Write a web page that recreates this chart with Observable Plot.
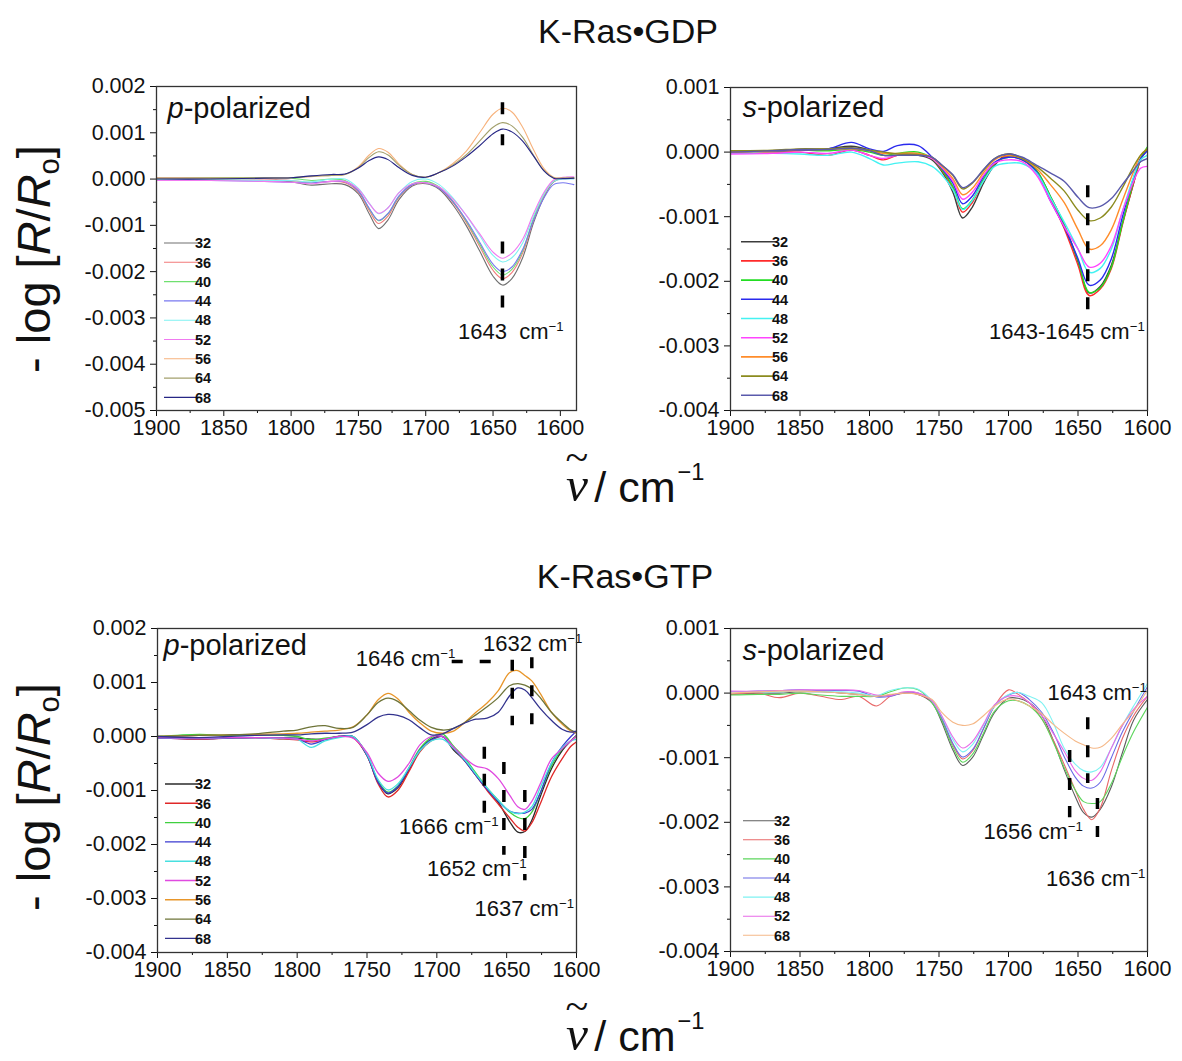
<!DOCTYPE html>
<html>
<head>
<meta charset="utf-8">
<script src="https://cdn.jsdelivr.net/npm/d3@7"></script>
<script src="https://cdn.jsdelivr.net/npm/@observablehq/plot@0.6"></script>
<style>
  body { margin: 0; background: #fff; }
  #page { position: relative; width: 1182px; height: 1061px; overflow: hidden;
          font-family: "Liberation Sans", Arial, Helvetica, sans-serif; color: #111; background: #fff; }
  .abs { position: absolute; }
  .title { font-size: 34px; transform: translate(-50%, -50%); white-space: nowrap; }
  .ylab { font-size: 47px; transform: translate(-50%, -50%) rotate(-90deg); white-space: nowrap; }
  .ylab sub { font-size: 0.62em; vertical-align: baseline; position: relative; top: 0.3em; }
  .xlab { font-size: 43px; transform: translate(-50%, -50%); white-space: nowrap; line-height: 1; }
  .xlab sup { font-size: 0.55em; vertical-align: baseline; position: relative; top: -0.9em; margin-left: 2px; }
  .nu { display: inline-block; text-align: center; font-family: "Liberation Serif", "DejaVu Serif", serif;
        font-style: italic; font-size: 1.15em; margin-right: 0.12em; }
  .nu .tl { display: block; font-style: normal; font-size: 0.85em; line-height: 0.32em; height: 0.32em; }
  .nu .nv { display: block; line-height: 0.85; }
</style>
</head>
<body>
<div id="page"></div>
<script>
// Absorbance difference spectra, -log(R/R0), in units of 10^-3, vs wavenumber (cm^-1).
// Series keys are the legend entries of each panel.
const keysAll = ["32", "36", "40", "44", "48", "52", "56", "64", "68"];
const keysGtpS = ["32", "36", "40", "44", "48", "52", "68"];

// ---- K-Ras·GDP, p-polarized ----
const nuGdpP = [1900,1860,1820,1800,1785,1770,1760,1750,1742,1735,1728,1720,1710,1700,1690,1680,1670,1660,1650,1643,1636,1628,1620,1612,1605,1598,1590];
const gdpP32 = [-0.03,-0.02,-0.03,-0.06,-0.13,-0.10,-0.12,-0.32,-0.75,-1.07,-0.88,-0.45,-0.15,-0.10,-0.22,-0.55,-1.00,-1.55,-2.10,-2.29,-2.15,-1.70,-0.95,-0.38,-0.06,0.02,0.02];
const gdpP36 = [0.02,0.02,0.00,-0.03,-0.08,-0.05,-0.08,-0.28,-0.68,-0.96,-0.80,-0.40,-0.13,-0.08,-0.20,-0.50,-0.93,-1.45,-1.97,-2.15,-2.02,-1.60,-0.90,-0.35,-0.05,0.02,0.02];
const gdpP40 = [0.00,0.03,0.03,0.02,-0.03,0.00,-0.03,-0.25,-0.64,-0.90,-0.75,-0.38,-0.10,-0.05,-0.17,-0.47,-0.90,-1.40,-1.90,-2.07,-1.95,-1.55,-0.85,-0.32,-0.04,0.03,0.03];
const gdpP44 = [-0.03,-0.03,-0.05,-0.07,-0.08,-0.05,-0.06,-0.26,-0.63,-0.89,-0.74,-0.37,-0.12,-0.08,-0.20,-0.48,-0.88,-1.36,-1.84,-2.00,-1.90,-1.52,-0.90,-0.40,-0.12,-0.08,-0.12];
const gdpP48 = [-0.02,-0.02,-0.03,-0.03,-0.06,0.00,0.00,-0.20,-0.52,-0.75,-0.62,-0.30,-0.05,0.00,-0.12,-0.40,-0.78,-1.22,-1.65,-1.79,-1.70,-1.38,-0.80,-0.32,-0.05,0.00,0.00];
const gdpP52 = [-0.03,-0.03,-0.05,-0.07,-0.10,-0.05,-0.05,-0.22,-0.53,-0.74,-0.62,-0.30,-0.10,-0.08,-0.17,-0.43,-0.78,-1.18,-1.58,-1.71,-1.60,-1.30,-0.75,-0.28,-0.02,0.04,0.05];
const gdpP56 = [0.02,0.02,0.02,0.03,0.05,0.08,0.10,0.27,0.52,0.66,0.58,0.33,0.10,0.04,0.14,0.33,0.60,1.00,1.40,1.53,1.45,1.12,0.64,0.22,0.04,0.02,0.03];
const gdpP64 = [0.02,0.02,0.02,0.03,0.06,0.08,0.10,0.25,0.47,0.59,0.52,0.30,0.10,0.04,0.14,0.30,0.52,0.82,1.12,1.22,1.15,0.90,0.52,0.18,0.03,0.02,0.02];
const gdpP68 = [0.00,0.00,0.02,0.03,0.07,0.10,0.11,0.24,0.40,0.48,0.42,0.25,0.08,0.04,0.14,0.28,0.48,0.72,0.98,1.08,1.02,0.82,0.50,0.17,0.02,0.01,0.02];

// ---- K-Ras·GDP, s-polarized ----
const nuGdpS = [1900,1870,1850,1830,1813,1800,1790,1780,1765,1755,1748,1740,1733,1726,1718,1710,1700,1690,1680,1670,1660,1650,1642,1634,1626,1618,1610,1605,1600];
const gdpS32 = [0.00,0.02,0.04,0.05,0.09,0.03,-0.05,-0.05,-0.05,-0.12,-0.30,-0.62,-1.02,-0.85,-0.48,-0.20,-0.03,-0.10,-0.28,-0.68,-1.12,-1.70,-2.18,-2.08,-1.75,-1.10,-0.48,-0.12,0.05];
const gdpS36 = [0.00,0.00,0.00,-0.05,0.03,-0.05,-0.12,-0.05,-0.03,-0.10,-0.28,-0.56,-0.93,-0.78,-0.44,-0.18,-0.06,-0.12,-0.30,-0.72,-1.18,-1.75,-2.22,-2.12,-1.80,-1.12,-0.48,-0.12,0.05];
const gdpS40 = [0.02,0.02,0.03,0.02,0.04,0.00,-0.05,-0.02,0.00,-0.10,-0.27,-0.53,-0.88,-0.74,-0.42,-0.17,-0.08,-0.12,-0.28,-0.68,-1.12,-1.68,-2.17,-2.10,-1.78,-1.10,-0.45,-0.10,0.08];
const gdpS44 = [0.00,0.02,0.03,0.05,0.15,0.05,0.01,0.10,0.10,-0.08,-0.25,-0.48,-0.80,-0.68,-0.38,-0.16,-0.08,-0.12,-0.30,-0.75,-1.15,-1.65,-2.06,-1.98,-1.65,-1.00,-0.40,-0.10,0.02];
const gdpS48 = [-0.02,-0.02,-0.03,-0.05,0.00,-0.10,-0.20,-0.17,-0.15,-0.22,-0.35,-0.58,-0.89,-0.75,-0.45,-0.22,-0.17,-0.18,-0.32,-0.70,-1.08,-1.50,-1.86,-1.80,-1.50,-0.92,-0.38,-0.12,-0.05];
const gdpS52 = [-0.03,-0.02,0.00,-0.02,0.03,-0.05,-0.10,-0.05,-0.03,-0.10,-0.24,-0.45,-0.73,-0.62,-0.36,-0.17,-0.12,-0.15,-0.35,-0.75,-1.15,-1.50,-1.78,-1.72,-1.45,-0.92,-0.45,-0.25,-0.22];
const gdpS56 = [0.00,0.02,0.04,0.04,0.05,0.02,-0.02,-0.02,-0.02,-0.08,-0.22,-0.41,-0.66,-0.56,-0.32,-0.12,-0.05,-0.10,-0.25,-0.50,-0.78,-1.20,-1.50,-1.45,-1.20,-0.75,-0.30,-0.05,0.05];
const gdpS64 = [0.02,0.03,0.05,0.05,0.07,0.03,0.00,-0.03,-0.04,-0.08,-0.20,-0.36,-0.57,-0.48,-0.28,-0.10,-0.03,-0.10,-0.22,-0.40,-0.60,-0.90,-1.06,-1.02,-0.85,-0.55,-0.22,-0.05,0.05];
const gdpS68 = [0.00,0.02,0.04,0.04,0.06,0.02,-0.05,-0.05,-0.05,-0.08,-0.20,-0.35,-0.55,-0.47,-0.27,-0.10,-0.03,-0.08,-0.20,-0.32,-0.45,-0.70,-0.86,-0.84,-0.72,-0.50,-0.28,-0.15,-0.10];

// ---- K-Ras·GTP, p-polarized ----
const nuGtpP = [1900,1870,1850,1830,1810,1800,1790,1780,1770,1760,1750,1742,1735,1728,1720,1712,1704,1696,1688,1680,1672,1664,1656,1648,1642,1637,1632,1626,1618,1610,1604,1600];
const gtpP32 = [-0.02,-0.04,-0.03,-0.02,-0.03,-0.03,-0.05,-0.05,0.00,0.00,-0.35,-0.85,-1.06,-0.95,-0.62,-0.25,-0.05,0.00,-0.25,-0.45,-0.72,-0.98,-1.22,-1.57,-1.77,-1.76,-1.55,-1.12,-0.60,-0.25,-0.08,0.02];
const gtpP36 = [-0.02,-0.05,-0.03,-0.02,-0.05,-0.06,-0.10,-0.05,0.00,-0.02,-0.35,-0.88,-1.12,-1.00,-0.65,-0.28,-0.08,0.00,-0.22,-0.45,-0.72,-1.00,-1.25,-1.50,-1.68,-1.75,-1.60,-1.25,-0.75,-0.40,-0.18,-0.10];
const gtpP40 = [0.00,0.04,0.02,0.03,0.02,0.00,-0.06,-0.03,0.00,0.00,-0.33,-0.83,-1.03,-0.92,-0.58,-0.22,-0.02,0.05,-0.18,-0.40,-0.68,-0.95,-1.18,-1.40,-1.50,-1.52,-1.40,-1.05,-0.55,-0.22,-0.08,0.00];
const gtpP44 = [-0.03,-0.04,-0.03,-0.02,-0.03,-0.04,-0.14,-0.06,0.00,0.00,-0.35,-0.85,-1.05,-0.93,-0.60,-0.25,-0.06,0.00,-0.22,-0.45,-0.72,-0.98,-1.20,-1.38,-1.42,-1.42,-1.35,-1.05,-0.50,-0.18,0.00,0.10];
const gtpP48 = [-0.02,-0.03,-0.02,-0.02,-0.04,-0.05,-0.20,-0.08,-0.02,0.00,-0.33,-0.80,-0.99,-0.88,-0.58,-0.26,-0.08,-0.05,-0.22,-0.43,-0.70,-0.95,-1.18,-1.38,-1.43,-1.40,-1.30,-0.95,-0.50,-0.20,-0.08,-0.05];
const gtpP52 = [-0.02,-0.03,-0.02,-0.02,-0.03,-0.05,-0.08,-0.05,0.00,-0.03,-0.30,-0.68,-0.83,-0.75,-0.50,-0.15,0.00,0.00,-0.20,-0.40,-0.55,-0.60,-0.78,-1.08,-1.30,-1.35,-1.20,-0.88,-0.42,-0.22,-0.08,0.00];
const gtpP56 = [0.00,0.02,0.03,0.04,0.05,0.06,0.08,0.10,0.12,0.18,0.40,0.68,0.80,0.70,0.45,0.25,0.10,0.06,0.10,0.26,0.45,0.62,0.85,1.18,1.22,1.13,1.03,0.80,0.45,0.22,0.10,0.06];
const gtpP64 = [0.00,0.02,0.03,0.05,0.10,0.12,0.18,0.20,0.15,0.17,0.40,0.63,0.71,0.65,0.48,0.30,0.17,0.12,0.15,0.26,0.40,0.55,0.72,0.94,0.98,0.95,0.88,0.72,0.45,0.25,0.12,0.08];
const gtpP68 = [0.00,-0.02,0.00,0.02,0.03,0.03,0.05,0.06,0.06,0.08,0.22,0.36,0.41,0.39,0.31,0.16,0.03,0.05,0.15,0.25,0.32,0.34,0.45,0.75,0.90,0.86,0.72,0.52,0.30,0.13,0.08,0.10];

// ---- K-Ras·GTP, s-polarized ----
const nuGtpS = [1900,1880,1865,1850,1835,1820,1808,1795,1785,1775,1765,1755,1748,1740,1733,1726,1718,1710,1700,1693,1685,1676,1668,1660,1652,1646,1640,1634,1626,1618,1610,1600];
const gtpS32 = [-0.02,0.00,0.00,0.02,0.02,0.00,-0.02,-0.05,-0.03,0.00,-0.02,-0.15,-0.45,-0.88,-1.12,-1.00,-0.65,-0.30,-0.08,-0.08,-0.15,-0.35,-0.72,-1.18,-1.60,-1.85,-1.92,-1.80,-1.45,-0.92,-0.42,-0.10];
const gtpS36 = [-0.02,0.00,-0.07,0.00,-0.05,-0.10,-0.05,-0.20,-0.05,0.00,-0.02,-0.13,-0.40,-0.80,-1.02,-0.90,-0.55,-0.20,0.05,-0.02,-0.15,-0.40,-0.72,-1.10,-1.50,-1.80,-1.96,-1.78,-1.20,-0.70,-0.35,-0.05];
const gtpS40 = [-0.03,-0.02,-0.02,0.00,-0.03,-0.05,-0.05,-0.05,0.02,0.08,0.05,-0.15,-0.42,-0.84,-1.07,-0.95,-0.62,-0.28,-0.12,-0.12,-0.20,-0.40,-0.75,-1.15,-1.50,-1.68,-1.71,-1.68,-1.40,-0.98,-0.60,-0.22];
const gtpS44 = [0.02,0.03,0.04,0.05,0.04,0.04,0.03,-0.06,-0.05,0.01,0.00,-0.12,-0.38,-0.78,-0.99,-0.88,-0.55,-0.20,-0.03,0.01,-0.10,-0.30,-0.60,-0.98,-1.30,-1.44,-1.47,-1.38,-1.00,-0.60,-0.28,0.10];
const gtpS48 = [0.02,0.02,0.02,0.03,0.02,0.02,0.00,-0.04,0.04,0.08,0.06,-0.12,-0.36,-0.72,-0.91,-0.80,-0.50,-0.20,-0.02,0.01,-0.05,-0.15,-0.45,-0.85,-1.10,-1.20,-1.22,-1.15,-0.85,-0.50,-0.20,0.15];
const gtpS52 = [0.03,0.03,0.04,0.05,0.05,0.05,0.04,-0.03,-0.04,0.02,0.00,-0.12,-0.35,-0.68,-0.85,-0.75,-0.48,-0.18,-0.05,-0.05,-0.15,-0.35,-0.62,-0.90,-1.20,-1.32,-1.35,-1.22,-0.85,-0.50,-0.25,-0.05];
const gtpS68 = [0.00,0.02,0.03,0.03,0.02,0.00,-0.02,-0.05,-0.02,0.00,-0.02,-0.10,-0.30,-0.45,-0.50,-0.48,-0.35,-0.20,-0.09,-0.12,-0.20,-0.32,-0.48,-0.62,-0.74,-0.80,-0.85,-0.84,-0.70,-0.48,-0.28,0.05];

// Band positions marked in each panel (cm^-1) and their labels.
const markGdpP = [{x: 1643, y1: 1.65, y2: 0.72, dash: "12,20"}, {x: 1643, y1: -1.36, y2: -2.83, dash: "12,15"}];
const textGdpP = [{x: 1676, y: -3.3, t: "1643  cm⁻¹"}];
const markGdpS = [{x: 1643, y1: -0.52, y2: -2.45, dash: "12,16"}];
const textGdpS = [{x: 1714, y: -2.79, t: "1643-1645 cm⁻¹"}];
const markGtpP = [
  {x: 1646, y1: 1.41, y2: 0.20, dash: "11,17"},
  {x: 1632, y1: 1.46, y2: 0.20, dash: "11,17"},
  {x: 1666, y1: -0.20, y2: -1.43, dash: "12,15"},
  {x: 1652, y1: -0.48, y2: -2.20, dash: "12,16"},
  {x: 1637, y1: -1.00, y2: -2.67, dash: "12,16"}
];
const hMarkGtpP = [{y: 1.39, x1: 1689, x2: 1650, dash: "11,17"}];
const textGtpP = [
  {x: 1758, y: 1.44, t: "1646 cm⁻¹"},
  {x: 1667, y: 1.72, t: "1632 cm⁻¹"},
  {x: 1727, y: -1.68, t: "1666 cm⁻¹"},
  {x: 1707, y: -2.45, t: "1652 cm⁻¹"},
  {x: 1673, y: -3.19, t: "1637 cm⁻¹"}
];
const markGtpS = [
  {x: 1643, y1: -0.38, y2: -1.40, dash: "12,16"},
  {x: 1656, y1: -0.89, y2: -1.93, dash: "12,16"},
  {x: 1636, y1: -1.63, y2: -2.48, dash: "11,17"}
];
const textGtpS = [
  {x: 1672, y: 0.01, t: "1643 cm⁻¹"},
  {x: 1718, y: -2.15, t: "1656 cm⁻¹"},
  {x: 1673, y: -2.87, t: "1636 cm⁻¹"}
];

const xMajor = [1900, 1850, 1800, 1750, 1700, 1650, 1600];
const xMinor = [1875, 1825, 1775, 1725, 1675, 1625];

const FONT = '"Liberation Sans", Arial, Helvetica, sans-serif';
const SVGNS = "http://www.w3.org/2000/svg";

function rowsOf(nu, keys, values) {
  return keys.flatMap((k, i) => values[i].map((v, j) => ({nu: nu[j], v, k})));
}

function panel(cfg) {
  const rows = rowsOf(cfg.nu, cfg.keys, cfg.values);
  const [ylo, yhi] = cfg.yDomain;
  const yMajor = d3.range(ylo, yhi + 0.5, 1);
  const yMinor = d3.range(ylo + 0.5, yhi, 1);
  const marks = [
    Plot.axisY(yMajor, {tickSize: 6, tickPadding: 5, fontSize: 21.5, label: null, tickFormat: d => (d / 1000).toFixed(3)}),
    Plot.axisY(yMinor, {tickSize: 3, label: null, tickFormat: () => ""}),
    Plot.axisX(xMajor, {tickSize: 6, tickPadding: 3, fontSize: 21.5, label: null, tickFormat: d => String(d)}),
    Plot.axisX(xMinor, {tickSize: 3, label: null, tickFormat: () => ""}),
    Plot.line(rows, {x: "nu", y: "v", z: "k", stroke: "k", strokeWidth: cfg.lineWidth, curve: "catmull-rom", clip: true}),
    ...cfg.marks.map(m => Plot.ruleX([m], {x: "x", y1: "y1", y2: "y2", stroke: "#000", strokeWidth: 3.5, strokeDasharray: m.dash})),
    ...(cfg.hMarks || []).map(m => Plot.ruleY([m], {y: "y", x1: "x1", x2: "x2", stroke: "#000", strokeWidth: 3.5, strokeDasharray: m.dash})),
    Plot.text(cfg.texts, {x: "x", y: "y", text: "t", textAnchor: "start", fontSize: 22, fill: "#111"}),
    Plot.text([cfg.pol], {frameAnchor: "top-left", dx: cfg.polDx, dy: cfg.polDy, text: d => d, textAnchor: "start", lineAnchor: "middle", fontSize: 29, fill: "#111"}),
    Plot.frame({stroke: "#333", strokeWidth: 1.3})
  ];
  const svg = Plot.plot({
    width: cfg.width, height: cfg.height,
    marginLeft: cfg.ml, marginRight: cfg.mr, marginTop: cfg.mt, marginBottom: cfg.mb,
    x: {domain: cfg.xDomain, label: null},
    y: {domain: cfg.yDomain, label: null},
    color: {domain: cfg.keys, range: cfg.colors},
    style: {fontFamily: FONT, color: "#111", background: "transparent", overflow: "visible"},
    marks
  });

  // superscripts and italic letters
  svg.querySelectorAll("text").forEach(el => {
    const t = el.textContent;
    if (t.endsWith("⁻¹")) {
      el.textContent = t.slice(0, -2);
      const ts = document.createElementNS(SVGNS, "tspan");
      ts.setAttribute("dy", "-0.6em");
      ts.setAttribute("font-size", "0.6em");
      ts.textContent = "−1";
      el.appendChild(ts);
    } else if (t.endsWith("-polarized")) {
      el.textContent = "";
      const it = document.createElementNS(SVGNS, "tspan");
      it.setAttribute("font-style", "italic");
      it.textContent = t[0];
      el.appendChild(it);
      el.appendChild(document.createTextNode(t.slice(1)));
    }
  });

  // legend
  const g = d3.select(svg).append("g").attr("font-family", FONT);
  cfg.keys.forEach((k, i) => {
    const y = cfg.leg.y0 + i * cfg.leg.step;
    g.append("line").attr("x1", cfg.leg.x1).attr("x2", cfg.leg.x2).attr("y1", y).attr("y2", y)
      .attr("stroke", cfg.colors[i]).attr("stroke-width", cfg.leg.w);
    g.append("text").attr("x", cfg.leg.tx).attr("y", y).attr("dy", "0.36em")
      .attr("font-size", 14.5).attr("font-weight", "bold").attr("fill", "#111").text(k);
  });

  const wrap = document.createElement("div");
  wrap.className = "abs";
  wrap.style.left = cfg.left + "px";
  wrap.style.top = cfg.top + "px";
  wrap.appendChild(svg);
  document.getElementById("page").appendChild(wrap);
}

panel({
  left: 0, top: 60, width: 600, height: 390, ml: 156, mr: 24, mt: 26, mb: 40,
  xDomain: [1900, 1588], yDomain: [-5, 2], nu: nuGdpP, keys: keysAll,
  values: [gdpP32, gdpP36, gdpP40, gdpP44, gdpP48, gdpP52, gdpP56, gdpP64, gdpP68],
  colors: ["#707070", "#f27a7a", "#6fe06f", "#7878f0", "#7ff2f2", "#f07af0", "#f7b27c", "#a3a06c", "#262685"],
  lineWidth: 1.1, marks: markGdpP, texts: textGdpP, pol: "p-polarized", polDx: 11, polDy: 22,
  leg: {x1: 164, x2: 199, tx: 203, y0: 183, step: 19.3, w: 1.1}
});
panel({
  left: 600, top: 60, width: 582, height: 390, ml: 130, mr: 35, mt: 27, mb: 40,
  xDomain: [1900, 1600], yDomain: [-4, 1], nu: nuGdpS, keys: keysAll,
  values: [gdpS32, gdpS36, gdpS40, gdpS44, gdpS48, gdpS52, gdpS56, gdpS64, gdpS68],
  colors: ["#3c3c3c", "#ff2a2a", "#22dd22", "#2a2aee", "#44f2f2", "#ff44ff", "#ff8c2a", "#8b8b1e", "#5a5aac"],
  lineWidth: 1.4, marks: markGdpS, texts: textGdpS, pol: "s-polarized", polDx: 12, polDy: 20,
  leg: {x1: 141, x2: 175, tx: 180, y0: 181.7, step: 19.2, w: 1.6}
});
panel({
  left: 0, top: 600, width: 600, height: 392, ml: 157, mr: 24, mt: 28, mb: 40,
  xDomain: [1900, 1600], yDomain: [-4, 2], nu: nuGtpP, keys: keysAll,
  values: [gtpP32, gtpP36, gtpP40, gtpP44, gtpP48, gtpP52, gtpP56, gtpP64, gtpP68],
  colors: ["#2a2a2a", "#e02828", "#3fd03f", "#3a3ad0", "#48e0e0", "#e04ae0", "#e8962a", "#6e7438", "#33338e"],
  lineWidth: 1.3, marks: markGtpP, hMarks: hMarkGtpP, texts: textGtpP, pol: "p-polarized", polDx: 6, polDy: 17,
  leg: {x1: 165, x2: 198, tx: 203, y0: 184, step: 19.3, w: 1.4}
});
panel({
  left: 600, top: 600, width: 582, height: 391, ml: 130, mr: 35, mt: 28, mb: 40,
  xDomain: [1900, 1600], yDomain: [-4, 1], nu: nuGtpS, keys: keysGtpS,
  values: [gtpS32, gtpS36, gtpS40, gtpS44, gtpS48, gtpS52, gtpS68],
  colors: ["#5e5e5e", "#e86868", "#5cd65c", "#6a6ae6", "#7ef2f2", "#e86ae8", "#f5b888"],
  lineWidth: 1.1, marks: markGtpS, texts: textGtpS, pol: "s-polarized", polDx: 12, polDy: 22,
  leg: {x1: 143, x2: 177, tx: 182, y0: 220.7, step: 19.1, w: 1.1}
});

// titles and axis titles
const page = document.getElementById("page");
function addHTML(cls, x, y, html) {
  const d = document.createElement("div");
  d.className = "abs " + cls;
  d.style.left = x + "px";
  d.style.top = y + "px";
  d.innerHTML = html;
  page.appendChild(d);
}
const nuLabel = '<span class="nu"><span class="tl">~</span><span class="nv">ν</span></span>/ cm<sup>−1</sup>';
const yLabel = '- log [<i>R</i>/<i>R</i><sub>o</sub>]';
addHTML("title", 628, 31, "K-Ras•GDP");
addHTML("title", 625, 576, "K-Ras•GTP");
addHTML("ylab", 33, 259, yLabel);
addHTML("ylab", 33, 797, yLabel);
addHTML("xlab", 635, 480, nuLabel);
addHTML("xlab", 635, 1029, nuLabel);
</script>
</body>
</html>
